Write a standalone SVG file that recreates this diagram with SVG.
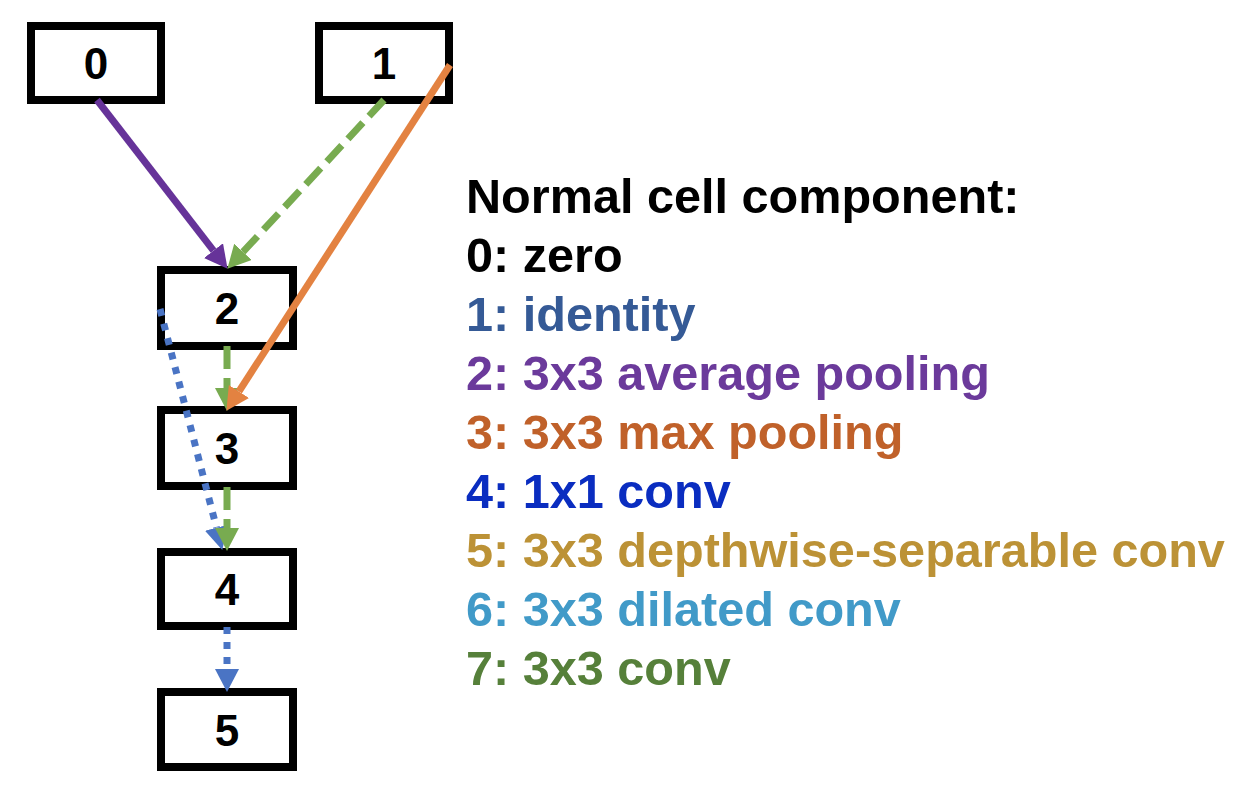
<svg xmlns="http://www.w3.org/2000/svg" width="1240" height="798" viewBox="0 0 1240 798">
<style>
.box{fill:#fff;stroke:#000;stroke-width:8}
.lbl{font-family:"Liberation Sans",Arial,sans-serif;font-weight:bold;font-size:44px;text-anchor:middle;fill:#000}
.leg{font-family:"Liberation Sans",Arial,sans-serif;font-weight:bold;font-size:48.6px}
.c{fill:none;stroke-width:7}
</style>
<defs>
<marker id="aP" viewBox="0 -12 23 24" refX="0" refY="0" markerWidth="23" markerHeight="24" markerUnits="userSpaceOnUse" orient="auto"><path d="M0,-12 L23,0 L0,12 z" fill="#663399"/></marker>
<marker id="aG" viewBox="0 -12 23 24" refX="0" refY="0" markerWidth="23" markerHeight="24" markerUnits="userSpaceOnUse" orient="auto"><path d="M0,-12 L23,0 L0,12 z" fill="#78AB50"/></marker>
<marker id="aO" viewBox="0 -12 23 24" refX="0" refY="0" markerWidth="23" markerHeight="24" markerUnits="userSpaceOnUse" orient="auto"><path d="M0,-12 L23,0 L0,12 z" fill="#E38241"/></marker>
<marker id="aB" viewBox="0 -12 23 24" refX="0" refY="0" markerWidth="23" markerHeight="24" markerUnits="userSpaceOnUse" orient="auto"><path d="M0,-12 L23,0 L0,12 z" fill="#4A74C4"/></marker>
</defs>
<g id="node0"><rect class="box" x="31" y="26" width="130" height="74"/><text class="lbl" x="96" y="79">0</text></g>
<g id="node1"><rect class="box" x="319" y="26" width="130" height="74"/><text class="lbl" x="384" y="79">1</text></g>
<g id="node2"><rect class="box" x="161" y="270" width="132" height="76"/><text class="lbl" x="227" y="324">2</text></g>
<g id="node3"><rect class="box" x="161" y="410" width="132" height="76"/><text class="lbl" x="227" y="464">3</text></g>
<g id="node4"><rect class="box" x="161" y="552" width="132" height="74"/><text class="lbl" x="227" y="605">4</text></g>
<g id="node5"><rect class="box" x="161" y="692" width="132" height="75"/><text class="lbl" x="227" y="746">5</text></g>
<g id="connectors">
<line class="c" x1="97" y1="100" x2="213.5" y2="250.6" stroke="#663399" marker-end="url(#aP)"/>
<line class="c" x1="384" y1="100" x2="243" y2="251.9" stroke="#78AB50" stroke-dasharray="22 9" marker-end="url(#aG)"/>
<line class="c" x1="160" y1="309" x2="216.5" y2="527.7" stroke="#4A74C4" stroke-dasharray="7 8" marker-end="url(#aB)"/>
<line class="c" x1="227" y1="346" x2="227" y2="388" stroke="#78AB50" stroke-dasharray="23 9" marker-end="url(#aG)"/>
<line class="c" x1="450" y1="65" x2="238.9" y2="391.5" stroke="#E38241" stroke-width="6" marker-end="url(#aO)"/>
<line class="c" x1="227" y1="487" x2="227" y2="528" stroke="#78AB50" stroke-dasharray="23 9" marker-end="url(#aG)"/>
<line class="c" x1="227" y1="627" x2="227" y2="669" stroke="#4A74C4" stroke-dasharray="7 8" marker-end="url(#aB)"/>
</g>
<g id="legend" class="leg">
<text x="466" y="213" fill="#000">Normal cell component:</text>
<text x="466" y="272" fill="#000">0: zero</text>
<text x="466" y="331" fill="#355A96">1: identity</text>
<text x="466" y="390" fill="#6B3A9B">2: 3x3 average pooling</text>
<text x="466" y="449" fill="#C0612A">3: 3x3 max pooling</text>
<text x="466" y="508" fill="#0A2DC0">4: 1x1 conv</text>
<text x="466" y="567" fill="#BC9236">5: 3x3 depthwise-separable conv</text>
<text x="466" y="626" fill="#419AC8">6: 3x3 dilated conv</text>
<text x="466" y="685" fill="#56803A">7: 3x3 conv</text>
</g>
</svg>
